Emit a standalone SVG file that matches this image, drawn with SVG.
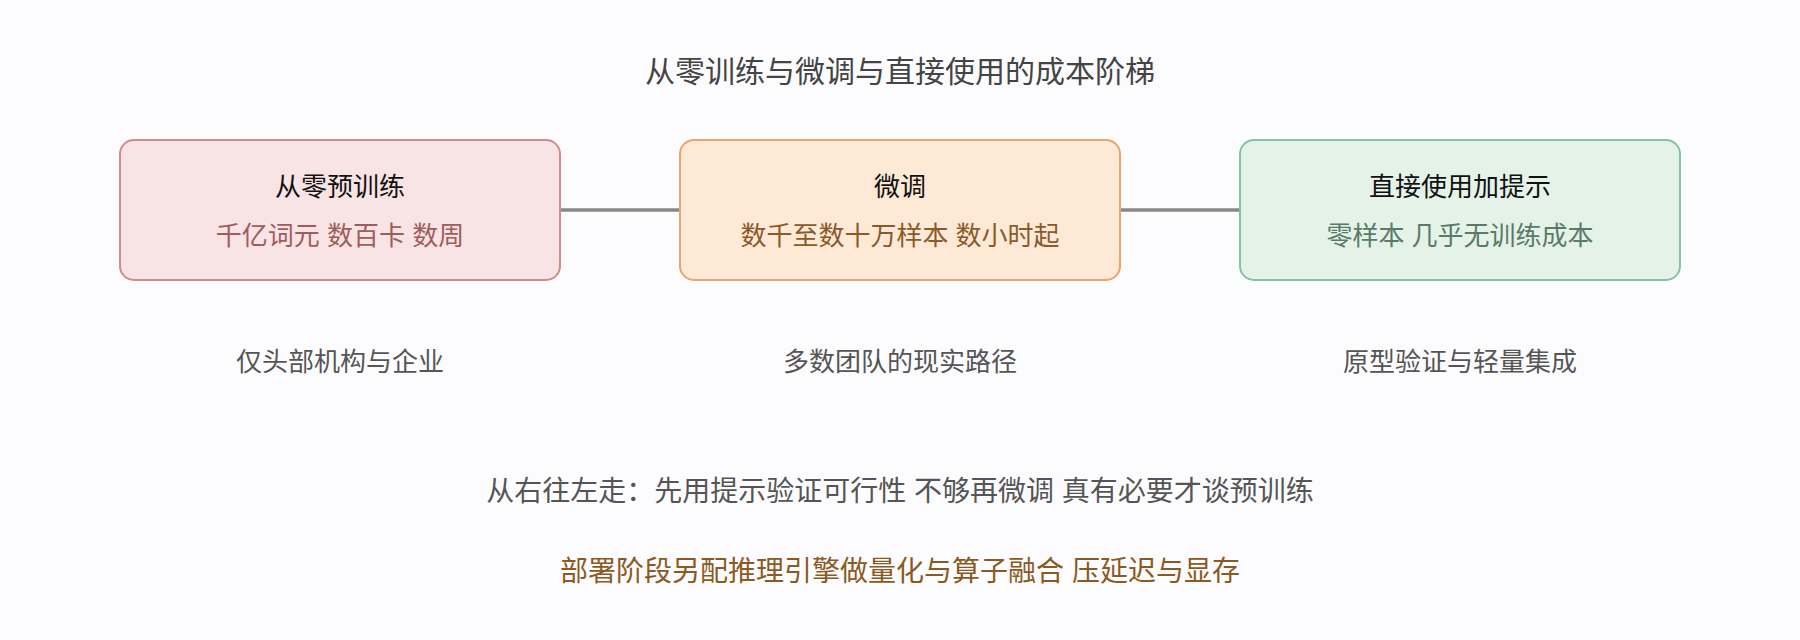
<svg xmlns="http://www.w3.org/2000/svg" width="1800" height="640" viewBox="0 0 1800 640">
  <style>
    text { font-family: "Liberation Sans", "Noto Sans CJK SC", sans-serif; text-anchor: middle; }
    .title { font-size: 30px; fill: #444444; }
    .ntitle { font-size: 26px; fill: #111111; }
    .nsub { font-size: 26px; }
    .label { font-size: 26px; fill: #555555; }
    .note { font-size: 28px; fill: #555555; }
    .note2 { font-size: 28px; fill: #8a5a22; }
    .conn { stroke: #888888; stroke-width: 3.5; fill: none; }
    .box { stroke-width: 2; }
  </style>
  <rect x="0" y="0" width="1800" height="640" fill="#fcfcfe"/>
  <text class="title" x="900" y="82">从零训练与微调与直接使用的成本阶梯</text>
  <g id="connectors">
    <line class="conn" x1="560" y1="210" x2="680" y2="210"/>
    <line class="conn" x1="1120" y1="210" x2="1240" y2="210"/>
  </g>
  <g id="node-pretrain">
    <rect class="box" x="120" y="140" width="440" height="140" rx="14" fill="#f8e4e4" stroke="#d08c8a"/>
    <text class="ntitle" x="340" y="196">从零预训练</text>
    <text class="nsub" x="340" y="245" fill="#a05c5c">千亿词元 数百卡 数周</text>
  </g>
  <g id="node-finetune">
    <rect class="box" x="680" y="140" width="440" height="140" rx="14" fill="#fde9d6" stroke="#eba56c"/>
    <text class="ntitle" x="900" y="196">微调</text>
    <text class="nsub" x="900" y="245" fill="#8a5a2a">数千至数十万样本 数小时起</text>
  </g>
  <g id="node-prompt">
    <rect class="box" x="1240" y="140" width="440" height="140" rx="14" fill="#e4f2e8" stroke="#84c2a8"/>
    <text class="ntitle" x="1460" y="196">直接使用加提示</text>
    <text class="nsub" x="1460" y="245" fill="#5a7a68">零样本 几乎无训练成本</text>
  </g>
  <g id="labels">
    <text class="label" x="340" y="371">仅头部机构与企业</text>
    <text class="label" x="900" y="371">多数团队的现实路径</text>
    <text class="label" x="1460" y="371">原型验证与轻量集成</text>
  </g>
  <g id="notes">
    <text class="note" x="900" y="501">从右往左走：先用提示验证可行性 不够再微调 真有必要才谈预训练</text>
    <text class="note2" x="900" y="581">部署阶段另配推理引擎做量化与算子融合 压延迟与显存</text>
  </g>
</svg>
